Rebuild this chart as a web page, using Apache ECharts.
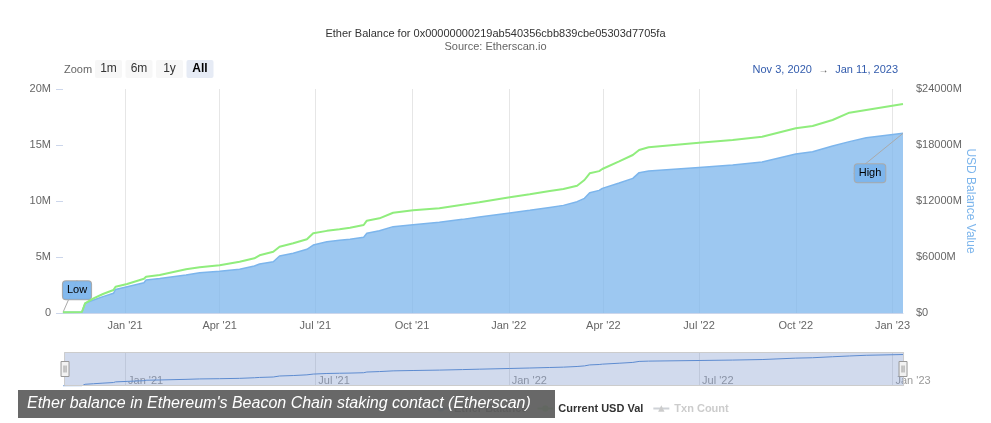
<!DOCTYPE html>
<html><head><meta charset="utf-8">
<script src="https://cdn.jsdelivr.net/npm/echarts@6/dist/echarts.min.js"></script>
<style>html,body{margin:0;padding:0;background:#fff}#c{width:991px;height:423px}</style>
</head><body><div id="c"></div>
<script>
const titleText = "Ether Balance for 0x00000000219ab540356cbb839cbe05303d7705fa";
const subtitleText = "Source: Etherscan.io";
const captionText = "Ether balance in Ethereum's Beacon Chain staking contact (Etherscan)";
const seriesNames = ["Ether Balance", "Current USD Val", "Txn Count"];
const zoomButtons = ["1m", "6m", "1y", "All"];
const monthNames = ["Jan","Feb","Mar","Apr","May","Jun","Jul","Aug","Sep","Oct","Nov","Dec"];
const leftTickLabels = ["0", "5M", "10M", "15M", "20M"];
const rightTickLabels = ["$0", "$6000M", "$12000M", "$18000M", "$24000M"];
const xTickDates = ['2021-01-01','2021-04-01','2021-07-01','2021-10-01','2022-01-01','2022-04-01','2022-07-01','2022-10-01','2023-01-01'];
const navTickDates = ['2021-01-01','2021-07-01','2022-01-01','2022-07-01','2023-01-01'];

const dates = ['2020-11-03','2020-11-21','2020-11-24','2020-12-02','2020-12-11','2020-12-21','2020-12-23','2021-01-03','2021-01-19','2021-01-21','2021-02-03','2021-02-28','2021-03-13','2021-04-01','2021-04-20','2021-05-04','2021-05-09','2021-05-22','2021-05-28','2021-06-10','2021-06-23','2021-06-29','2021-07-12','2021-07-24','2021-08-03','2021-08-16','2021-08-19','2021-08-31','2021-09-13','2021-10-02','2021-10-27','2021-11-18','2021-12-04','2022-01-02','2022-01-21','2022-02-09','2022-02-22','2022-03-07','2022-03-14','2022-03-19','2022-03-28','2022-03-31','2022-04-16','2022-04-29','2022-05-05','2022-05-14','2022-07-01','2022-08-02','2022-08-30','2022-10-01','2022-10-17','2022-11-05','2022-11-21','2022-12-07','2023-01-11'];

// Ether balance, millions of ETH (left axis)
const etherBalanceM = [0.06,0.1,0.87,1.16,1.46,1.76,2.1,2.35,2.7,2.95,3.07,3.39,3.6,3.72,3.9,4.2,4.37,4.58,5.09,5.33,5.69,6.07,6.37,6.5,6.58,6.76,7.12,7.35,7.71,7.89,8.1,8.36,8.57,8.93,9.17,9.43,9.61,9.94,10.24,10.74,10.95,11.13,11.6,12.02,12.53,12.68,13.0,13.21,13.48,14.2,14.4,14.91,15.3,15.65,16.04];

// Current USD value, millions of USD (right axis)
const usdValueM = [75,110,1039,1575,2036,2464,2818,3107,3675,3889,4071,4682,4896,5110,5496,5860,6182,6568,7103,7468,7896,8539,8800,8968,9139,9428,9889,10146,10746,11003,11217,11603,11860,12396,12717,13071,13285,13639,14250,14968,15200,15428,16250,16928,17464,17750,18246,18535,18889,19789,20035,20678,21460,21750,22393];

const txnCount = [];

const toTs = s => { const p = s.split('-').map(Number); return Date.UTC(p[0], p[1]-1, p[2]); };
const fmtTick = v => { const d = new Date(v); return monthNames[d.getUTCMonth()] + " '" + String(d.getUTCFullYear()).slice(2); };
const fmtFull = s => { const d = new Date(toTs(s)); return monthNames[d.getUTCMonth()] + ' ' + d.getUTCDate() + ', ' + d.getUTCFullYear(); };

const minIdx = etherBalanceM.indexOf(Math.min(...etherBalanceM));
const maxIdx = etherBalanceM.indexOf(Math.max(...etherBalanceM));

const blueData = dates.map((d, i) => {
  const item = { value: [toTs(d), etherBalanceM[i]] };
  if (i === minIdx) item.label = { show: true, formatter: 'Low' };
  if (i === maxIdx) item.label = { show: true, formatter: 'High' };
  return item;
});
const greenData = dates.map((d, i) => [toTs(d), usdValueM[i]]);
const navData = dates.map((d, i) => [toTs(d), etherBalanceM[i]]);
const xTicks = xTickDates.map(toTs);
const navTicks = navTickDates.map(toTs);
const xMin = toTs(dates[0]), xMax = toTs(dates[dates.length-1]);

const FONT = '"Liberation Sans", Arial, sans-serif';

const chart = echarts.init(document.getElementById('c'), null, { renderer: 'canvas' });

// zoom buttons
const btnGraphics = [{
  type: 'text', left: 64, top: 64,
  style: { text: 'Zoom', fill: '#666', font: '11px ' + FONT }
}];
zoomButtons.forEach((b, i) => {
  const sel = b === 'All';
  btnGraphics.push({
    type: 'group', left: 95 + i * 30.5, top: 60,
    children: [
      { type: 'rect', shape: { x: 0, y: 0, width: 27, height: 18, r: 2 }, style: { fill: sel ? '#e6ebf5' : '#f7f7f7' } },
      { type: 'text', x: 13.5, y: 9, style: { text: b, fill: sel ? '#000' : '#333', font: (sel ? 'bold ' : '') + '12px ' + FONT, align: 'center', verticalAlign: 'middle' } }
    ]
  });
});

const option = {
  animation: false,
  backgroundColor: '#fff',
  textStyle: { fontFamily: FONT },
  title: {
    text: titleText, subtext: subtitleText, left: 'center', top: 23, itemGap: 2,
    textStyle: { fontSize: 11, fontWeight: 'normal', color: '#333', fontFamily: FONT },
    subtextStyle: { fontSize: 11, color: '#666', fontFamily: FONT }
  },
  legend: {
    data: seriesNames, left: 427, top: 398, itemWidth: 16, itemHeight: 8, itemGap: 9,
    selected: { 'Txn Count': false },
    inactiveColor: '#ccc',
    textStyle: { fontSize: 11, fontWeight: 'bold', color: '#333', fontFamily: FONT }
  },
  grid: [
    { left: 63, right: 88, top: 89, bottom: 110 },
    { left: 63, right: 88, top: 352, height: 34 }
  ],
  xAxis: [
    {
      type: 'value', gridIndex: 0, min: xMin, max: xMax,
      axisLine: { show: true, lineStyle: { color: '#ccd6eb' } },
      axisTick: { show: false, customValues: xTicks },
      splitLine: { show: true, lineStyle: { color: '#e6e6e6', width: 1 } },
      axisLabel: { customValues: xTicks, formatter: fmtTick, color: '#666', fontSize: 11, margin: 7, hideOverlap: false }
    },
    {
      type: 'value', gridIndex: 1, min: xMin, max: xMax,
      axisLine: { show: false }, axisTick: { show: false, customValues: navTicks },
      splitLine: { show: true, lineStyle: { color: '#e6e6e6', width: 1 } },
      axisLabel: { customValues: navTicks, inside: true, formatter: fmtTick, color: '#999', fontSize: 11, margin: 0, align: 'left', padding: [0, 0, 0, 3], hideOverlap: false }
    }
  ],
  yAxis: [
    {
      type: 'value', gridIndex: 0, min: 0, max: 20, interval: 5, position: 'left',
      axisLine: { show: false },
      axisTick: { show: true, length: 7, lineStyle: { color: '#ccd6eb' } },
      splitLine: { show: false },
      axisLabel: { formatter: v => leftTickLabels[Math.round(v / 5)], color: '#666', fontSize: 11, margin: 12 }
    },
    {
      type: 'value', gridIndex: 0, min: 0, max: 24000, interval: 6000, position: 'right',
      axisLine: { show: false }, axisTick: { show: false }, splitLine: { show: false },
      axisLabel: { formatter: v => rightTickLabels[Math.round(v / 6000)], color: '#666', fontSize: 11, margin: 13 },
      name: 'USD Balance Value', nameLocation: 'middle', nameRotate: -90, nameGap: 61,
      nameMoveOverlap: false,
      nameTextStyle: { color: '#7cb5ec', fontSize: 12 }
    },
    { type: 'value', gridIndex: 1, min: 0, max: v => v.max * 1.08, show: false }
  ],
  dataZoom: [{
    type: 'slider', xAxisIndex: 1, filterMode: 'none', start: 0, end: 100,
    left: 63, right: 88, top: 352, height: 34,
    showDataShadow: false, showDetail: false, brushSelect: false, moveHandleSize: 0,
    backgroundColor: 'rgba(0,0,0,0)', borderColor: '#cccccc',
    fillerColor: 'rgba(102,133,194,0.3)',
    handleIcon: 'path://M0,0H8V15H0Z M3,4V11 M5,4V11',
    handleSize: 15,
    handleStyle: { color: '#f2f2f2', borderColor: '#999', borderWidth: 1 },
    emphasis: { handleStyle: { color: '#f2f2f2', borderColor: '#999' } }
  }],
  series: [
    {
      name: seriesNames[0], type: 'line', xAxisIndex: 0, yAxisIndex: 0, data: blueData,
      showSymbol: true, symbol: 'circle', symbolSize: 0,
      lineStyle: { color: '#7cb5ec', width: 1.5 }, itemStyle: { color: '#7cb5ec' },
      areaStyle: { color: '#7cb5ec', opacity: 0.75 },
      label: { show: false, position: 'inside', backgroundColor: 'rgba(124,181,236,0.95)', borderColor: '#aaa', borderWidth: 1, borderRadius: 3, padding: [4, 4, 3, 4], color: '#000', fontSize: 11 },
      labelLine: { show: true, lineStyle: { color: '#aaa', width: 1 } },
      labelLayout: p => {
        if (p.dataIndex === minIdx) return { dx: 14, dy: -22 };
        if (p.dataIndex === maxIdx) return { dx: -33, dy: 40 };
        return {};
      },
      emphasis: { disabled: true }, z: 2
    },
    {
      name: seriesNames[1], type: 'line', xAxisIndex: 0, yAxisIndex: 1, data: greenData,
      showSymbol: false, symbol: 'circle', symbolSize: 6,
      lineStyle: { color: '#90ed7d', width: 2 }, itemStyle: { color: '#90ed7d' },
      emphasis: { disabled: true }, z: 3
    },
    {
      name: seriesNames[2], type: 'line', xAxisIndex: 0, yAxisIndex: 0, data: txnCount,
      symbol: 'triangle', symbolSize: 7,
      lineStyle: { color: '#434348', width: 2 }, itemStyle: { color: '#434348' }
    },
    {
      name: 'navigator', type: 'line', xAxisIndex: 1, yAxisIndex: 2, data: navData,
      showSymbol: false, silent: true,
      lineStyle: { color: '#5a8fd6', width: 1 }, emphasis: { disabled: true }
    }
  ],
  graphic: btnGraphics.concat([
    {
      type: 'text', right: 93, top: 64,
      style: {
        text: '{a|' + fmtFull(dates[0]) + '}  {b|→}  {a|' + fmtFull(dates[dates.length-1]) + '}',
        rich: { a: { fill: '#335cad', fontSize: 11, fontFamily: FONT }, b: { fill: '#555', fontSize: 10, fontFamily: FONT } }
      }
    },
    {
      type: 'group', left: 18, top: 390, z: 100,
      children: [
        { type: 'rect', shape: { x: 0, y: 0, width: 537, height: 28 }, style: { fill: 'rgba(96,96,96,0.95)' }, z: 100 },
        { type: 'text', x: 9, y: 14, z: 101, style: { text: captionText, fill: '#fff', font: 'italic 16px ' + FONT, verticalAlign: 'middle' } }
      ]
    }
  ])
};
chart.setOption(option);
</script></body></html>
